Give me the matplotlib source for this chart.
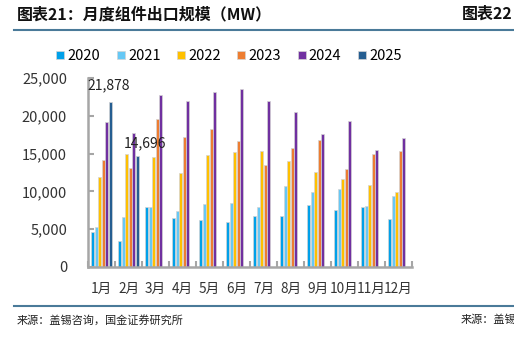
import numpy as np
import matplotlib.pyplot as plt
from matplotlib.lines import Line2D

plt.rcParams['font.family'] = ['Noto Sans CJK SC', 'DejaVu Sans']

months = ['1月', '2月', '3月', '4月', '5月', '6月', '7月', '8月', '9月', '10月', '11月', '12月']
years = ['2020', '2021', '2022', '2023', '2024', '2025']
v2020 = [4600, 3400, 8000, 6500, 6200, 5900, 6800, 6800, 8200, 7600, 8000, 6400]
v2021 = [5300, 6650, 7900, 7400, 8300, 8500, 8000, 10700, 9900, 10300, 8100, 9400]
v2022 = [11900, 14900, 14500, 12400, 14800, 15200, 15400, 14000, 12600, 11700, 10800, 9900]
v2023 = [14100, 13100, 19600, 17200, 18200, 16700, 13500, 15800, 16800, 13000, 15000, 15400]
v2024 = [19200, 17700, 22800, 21900, 23100, 23600, 22000, 20500, 17600, 19300, 15500, 17000]
v2025 = [21878, 14696]
series = [v2020, v2021, v2022, v2023, v2024, v2025]
colors = ['#00a0e9', '#66c8f5', '#ffc000', '#ed7d31', '#7030a0', '#255e91']

fig = plt.figure(figsize=(5.14, 3.37), dpi=100)
ax = fig.add_axes([88/514, 1-267/337, 324/514, 189/337])

x = np.arange(len(months))
w = 0.13
for i, (vals, c) in enumerate(zip(series, colors)):
    xs = x[:len(vals)] + (i - 2.5) * w
    ax.bar(xs, vals, width=w*0.8, color=c, edgecolor='#d4d4d4', linewidth=0.5)

# data labels for 2025
ax.annotate(f'{v2025[0]:,}', (x[0] + 2.5*w, v2025[0]), xytext=(-2, 16), textcoords='offset pixels',
            ha='center', va='center', fontsize=10, color='#222222')
ax.annotate(f'{v2025[1]:,}', (x[1] + 2.5*w, v2025[1]), xytext=(8, 13), textcoords='offset pixels',
            ha='center', va='center', fontsize=10, color='#222222')

ax.set_xlim(-0.5, len(months) - 0.5)
ax.set_ylim(0, 25000)
ax.set_yticks(range(0, 25001, 5000))
ax.set_yticklabels([f'{t:,}' for t in range(0, 25001, 5000)], fontsize=10.5, color='#333333')
ax.set_xticks(x)
ax.set_xticklabels(months, fontsize=9.8, color='#333333')
ax.set_xticks(np.arange(-0.5, len(months)), minor=True)
ax.tick_params(axis='x', which='major', length=0, pad=11)
ax.tick_params(axis='x', which='minor', direction='in', length=4, width=1.5, color='#a6a6a6')
ax.tick_params(axis='y', direction='in', length=4, width=1.5, color='#a6a6a6', pad=15)
for s in ['top', 'right']:
    ax.spines[s].set_visible(False)
for s in ['left', 'bottom']:
    ax.spines[s].set_color('#a6a6a6')
    ax.spines[s].set_linewidth(1.8)

handles = [Line2D([], [], marker='s', linestyle='', markersize=6, markerfacecolor=c,
                  markeredgecolor='#d4d4d4', markeredgewidth=0.5) for c in colors]
fig.legend(handles, years, loc='center', bbox_to_anchor=(228/514, 1-56/337), ncol=6,
           frameon=False, fontsize=10.5, handletextpad=0.1, columnspacing=1.0, handlelength=0.8)

fig.text(17/514, 1-14/337, '图表21：月度组件出口规模（MW）', fontsize=11.5, fontweight='bold',
         style='italic', ha='left', va='center', color='#111111')
fig.text(462/514, 1-14/337, '图表22：', fontsize=11.5, fontweight='bold',
         style='italic', ha='left', va='center', color='#111111')
fig.add_artist(Line2D([14/514, 1], [1-30/337, 1-30/337], color='#4a7a99', linewidth=1.5))
fig.add_artist(Line2D([14/514, 1], [1-306/337, 1-306/337], color='#4a7a99', linewidth=1.5))
fig.text(17/514, 1-320/337, '来源：盖锡咨询，国金证券研究所', fontsize=8, ha='left', va='center', color='#222222')
fig.text(461/514, 1-320/337, '来源：盖锡', fontsize=8, ha='left', va='center', color='#222222')

fig.savefig('out.png', dpi=100)
